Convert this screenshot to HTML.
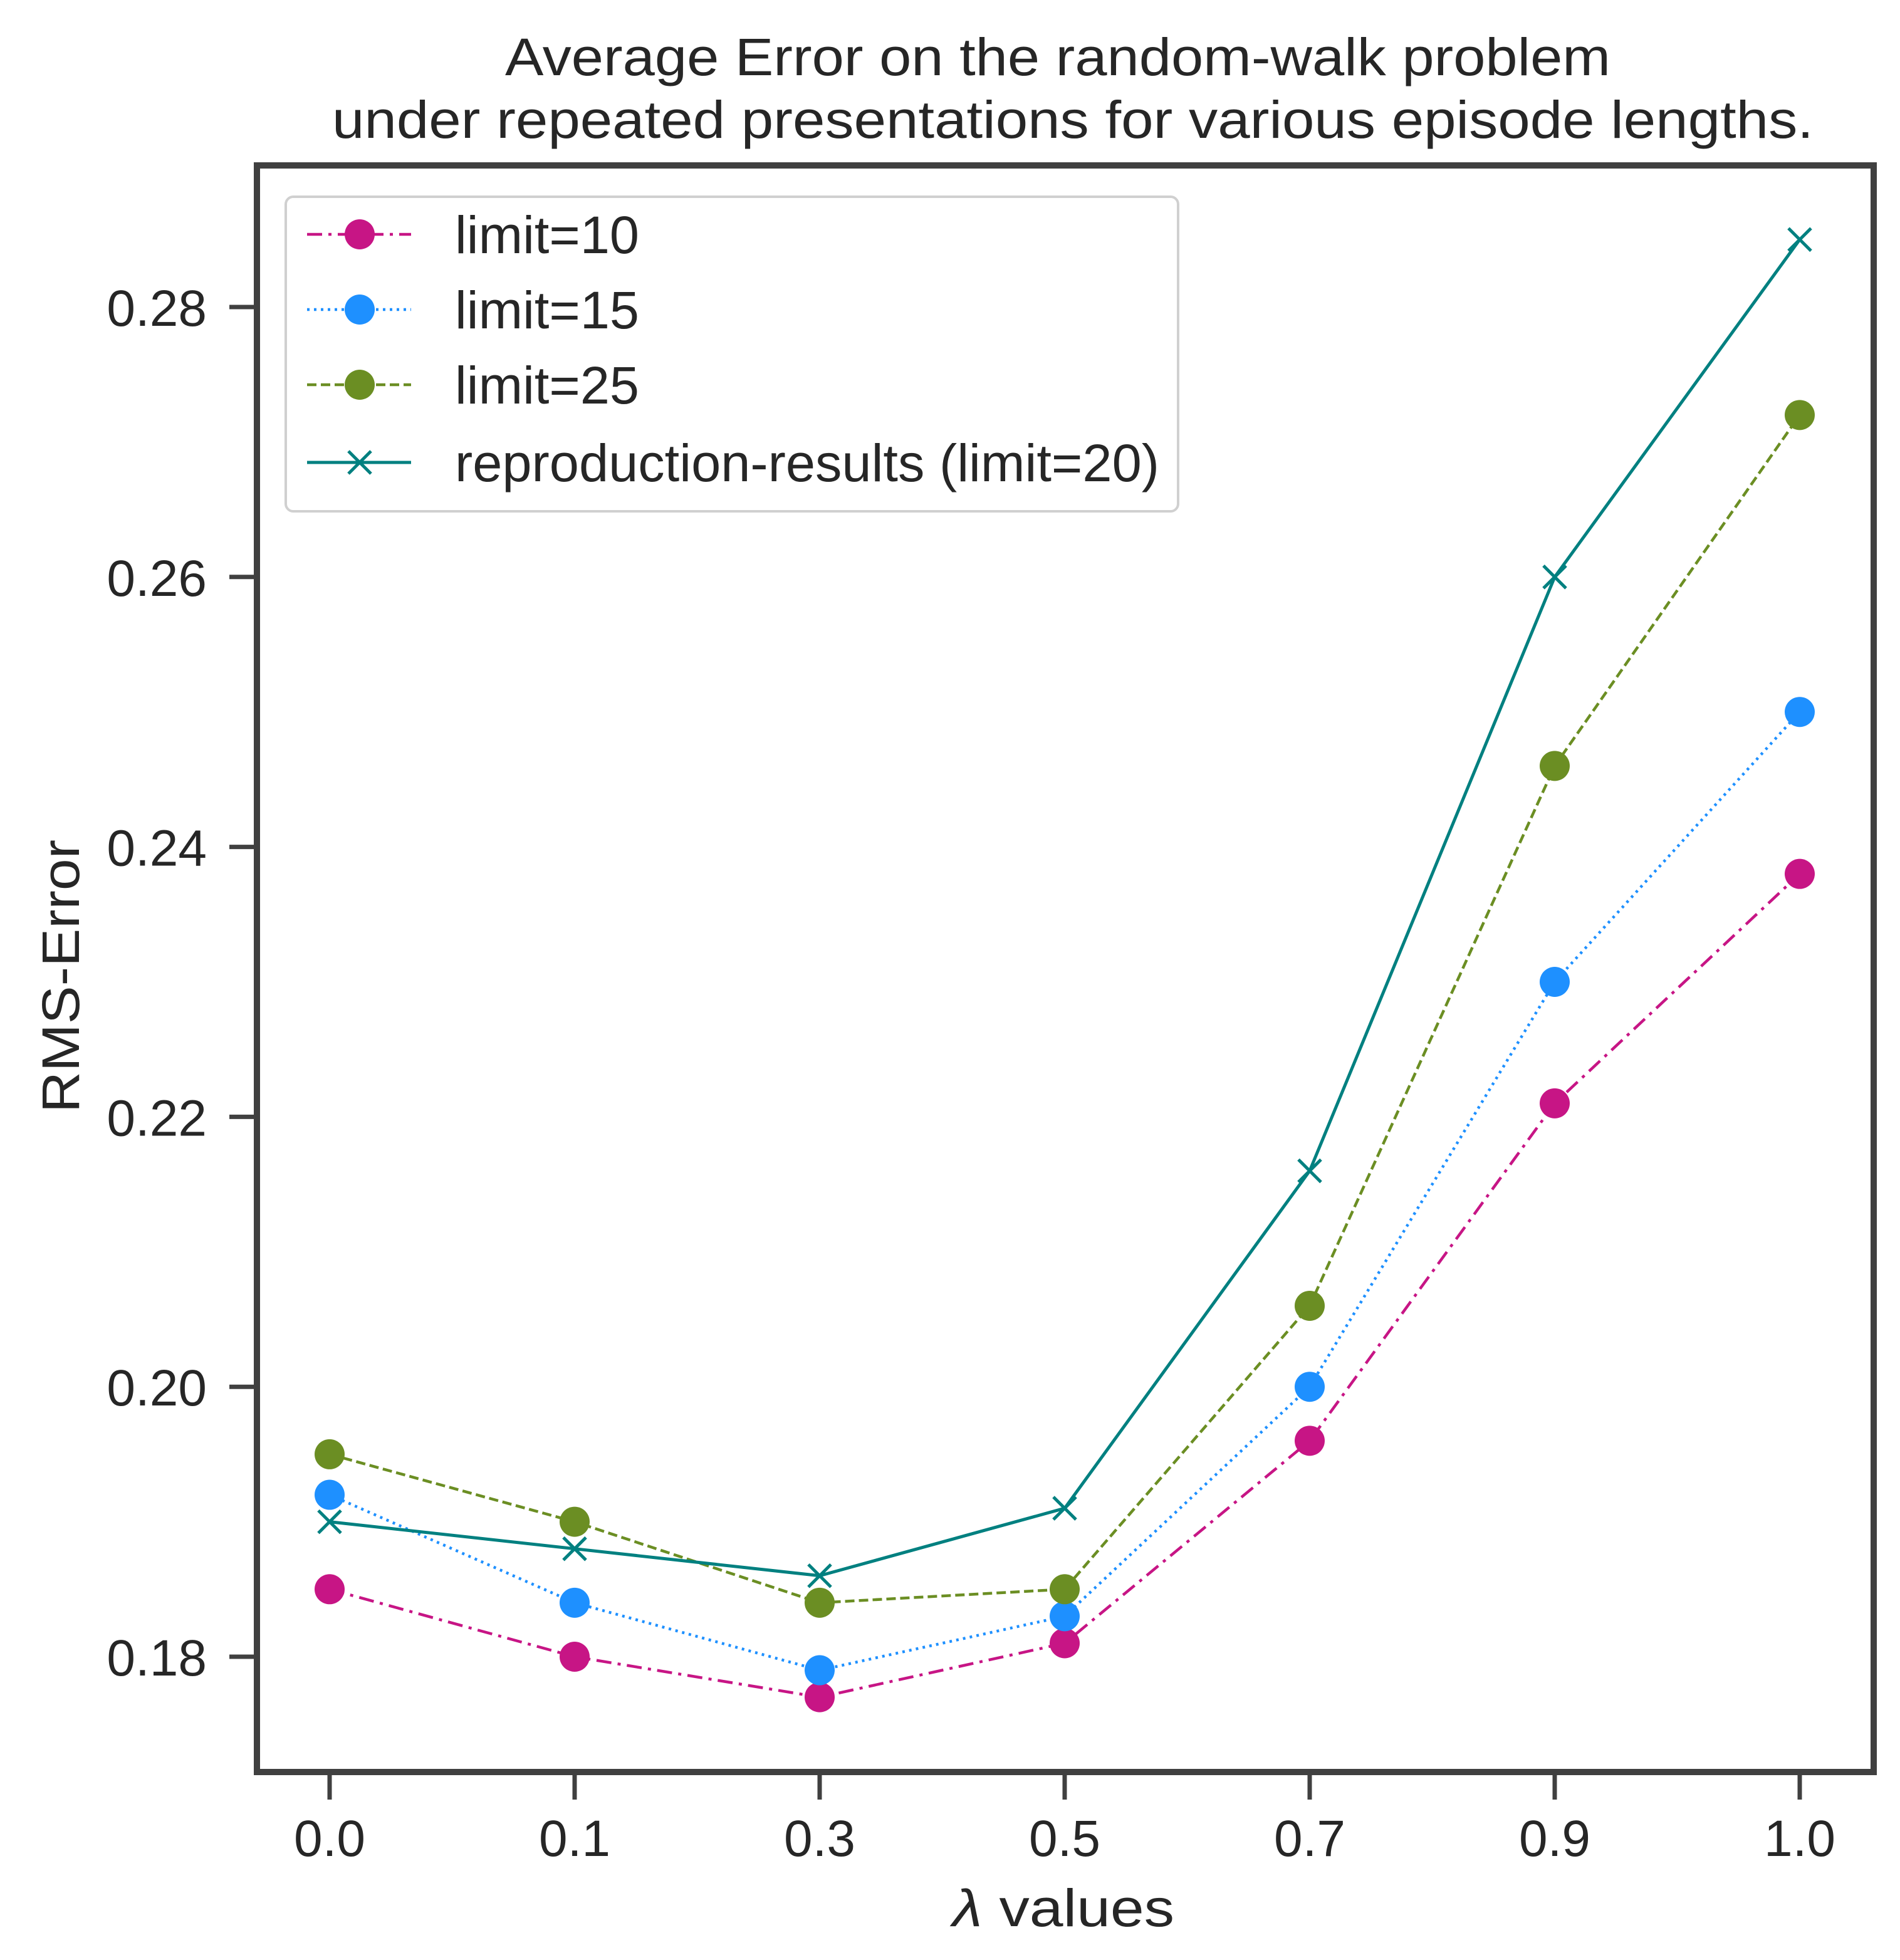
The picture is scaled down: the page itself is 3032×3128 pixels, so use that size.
<!DOCTYPE html>
<html><head><meta charset="utf-8"><style>
html,body{margin:0;padding:0;background:#fff}
svg{display:block;font-family:"Liberation Sans",Arial,sans-serif}
</style></head><body>
<svg id="chart" width="3032" height="3128" viewBox="0 0 3032 3128" xmlns="http://www.w3.org/2000/svg">
<rect width="3032" height="3128" fill="#fff"/>
<g fill="#262626" font-size="84">
<text x="806" y="120" textLength="1764" lengthAdjust="spacingAndGlyphs">Average Error on the random-walk problem</text>
<text x="530" y="220" textLength="2364" lengthAdjust="spacingAndGlyphs">under repeated presentations for various episode lengths.</text>
</g>
<g id="plot"></g>
<text x="-218" y="0" transform="translate(126,1558) rotate(-90)" font-size="84" fill="#262626" textLength="436" lengthAdjust="spacingAndGlyphs">RMS-Error</text>
<text x="1520" y="3074" font-size="84" fill="#262626" textLength="354" lengthAdjust="spacingAndGlyphs"><tspan font-style="italic">λ</tspan> values</text>
</svg>
<script>
const categories = ["0.0","0.1","0.3","0.5","0.7","0.9","1.0"];
const limit10 = [0.185,0.180,0.177,0.181,0.196,0.221,0.238];
const limit15 = [0.192,0.184,0.179,0.183,0.200,0.230,0.250];
const limit25 = [0.195,0.190,0.184,0.185,0.206,0.246,0.272];
const repro20 = [0.190,0.188,0.186,0.191,0.216,0.260,0.285];
const yTicks = [0.18,0.20,0.22,0.24,0.26,0.28];
const yTickLabels = ["0.18","0.20","0.22","0.24","0.26","0.28"];

const NS="http://www.w3.org/2000/svg";
const plot=document.getElementById('plot');
const L=410,R=2990,T=264,B=2828;
function xPos(i){return 526+i*(2872-526)/(categories.length-1);}
function yPos(v){return 2644+(v-0.18)*(490-2644)/0.10;}
function mk(tag,attrs,parent){const e=document.createElementNS(NS,tag);for(const k in attrs)e.setAttribute(k,attrs[k]);(parent||plot).appendChild(e);return e;}

yTicks.forEach((v,i)=>{
  const g=mk('g',{});
  
  
  mk('line',{x1:L-44,x2:L,y1:yPos(v),y2:yPos(v),stroke:'#404040','stroke-width':7},g);
  const t=mk('text',{x:L-80,y:yPos(v)+30,'font-size':82,fill:'#262626','text-anchor':'end'},g);
  t.textContent=yTickLabels[i];
});
categories.forEach((c,i)=>{
  const g=mk('g',{});
  
  
  mk('line',{x1:xPos(i),x2:xPos(i),y1:B,y2:B+44,stroke:'#404040','stroke-width':7},g);
  const t=mk('text',{x:xPos(i),y:B+134,'font-size':82,fill:'#262626','text-anchor':'middle'},g);
  t.textContent=c;
});

const series=[
  {name:'limit=10',key:'limit-10',data:limit10,color:'#c71585',dash:'24,10,5,10',marker:'o',w:294},
  {name:'limit=15',key:'limit-15',data:limit15,color:'#1e90ff',dash:'4,7',marker:'o',w:294},
  {name:'limit=25',key:'limit-25',data:limit25,color:'#6b8e23',dash:'15,7',marker:'o',w:294},
  {name:'reproduction-results (limit=20)',key:'reproduction-results',data:repro20,color:'#008080',dash:'',marker:'x',w:1124}
];
function marker(s,x,y,g){
  if(s.marker==='o') mk('circle',{cx:x,cy:y,r:24,fill:s.color},g);
  else { mk('path',{d:`M${x-18} ${y-18}L${x+18} ${y+18}M${x-18} ${y+18}L${x+18} ${y-18}`,stroke:s.color,'stroke-width':5},g); }
}
series.forEach(s=>{
  const g=mk('g',{});
  
  
  const pts=s.data.map((v,i)=>xPos(i)+','+yPos(v)).join(' ');
  const a={points:pts,fill:'none',stroke:s.color,'stroke-width':s.dash?4.5:5};
  if(s.dash)a['stroke-dasharray']=s.dash;
  mk('polyline',a,g);
  s.data.forEach((v,i)=>marker(s,xPos(i),yPos(v),g));
});

const sp=mk('rect',{x:L,y:T,width:R-L,height:B-T,fill:'none',stroke:'#404040','stroke-width':10});



const lg=mk('g',{});


mk('rect',{x:456,y:314,width:1424,height:502,rx:12,fill:'#fff','fill-opacity':0.85,stroke:'#d0d0d0','stroke-width':4},lg);
const rowY=[374,494,614,738];
series.forEach((s,i)=>{
  const e=mk('g',{},lg);
  
  
  const a={x1:490,x2:656,y1:rowY[i],y2:rowY[i],stroke:s.color,'stroke-width':s.dash?4.5:5};
  if(s.dash)a['stroke-dasharray']=s.dash;
  mk('line',a,e);
  marker(s,574,rowY[i],e);
  const t=mk('text',{x:726,y:rowY[i]+30,'font-size':84,fill:'#262626',textLength:s.w,lengthAdjust:'spacingAndGlyphs'},e);
  t.textContent=s.name;
});
</script>
</body></html>
